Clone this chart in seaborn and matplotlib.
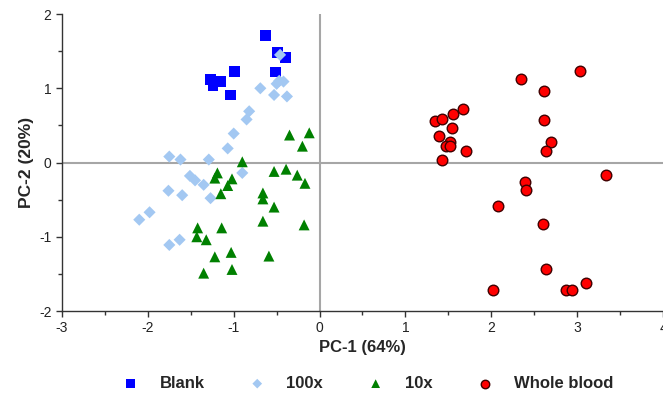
import numpy as np
import pandas as pd
import matplotlib
matplotlib.use("Agg")
import matplotlib.pyplot as plt
from matplotlib.ticker import MultipleLocator
import seaborn as sns

# PCA scores per sample group
blank_x = [-0.63, -0.49, -0.40, -0.51, -0.99, -1.27, -1.15, -1.24, -1.04]
blank_y = [1.71, 1.48, 1.41, 1.22, 1.23, 1.12, 1.09, 1.03, 0.91]

x100_x = [-0.46, -0.50, -0.47, -0.42, -0.69, -0.53, -0.38, -0.82, -0.85, -1.00,
          -1.07, -1.75, -1.62, -1.29, -0.90, -1.51, -1.45, -1.35, -1.76, -1.60,
          -1.27, -1.98, -2.10, -1.63, -1.75]
x100_y = [1.45, 1.06, 1.10, 1.09, 1.00, 0.91, 0.89, 0.69, 0.58, 0.39,
          0.19, 0.08, 0.04, 0.04, -0.14, -0.18, -0.24, -0.30, -0.38, -0.44,
          -0.48, -0.67, -0.77, -1.04, -1.11]

x10_x = [-0.35, -0.12, -0.20, -0.90, -1.19, -1.22, -1.02, -1.07, -1.15, -0.53,
         -0.39, -0.26, -0.17, -0.66, -0.66, -0.53, -0.66, -0.18, -1.42, -1.14,
         -1.43, -1.32, -1.22, -1.03, -0.59, -1.35, -1.02]
x10_y = [0.37, 0.40, 0.22, 0.01, -0.14, -0.21, -0.22, -0.31, -0.42, -0.12,
         -0.09, -0.17, -0.28, -0.41, -0.49, -0.60, -0.79, -0.84, -0.88, -0.88,
         -1.00, -1.04, -1.27, -1.21, -1.26, -1.49, -1.44]

blood_x = [1.34, 1.43, 1.55, 1.67, 1.54, 1.39, 1.52, 1.47, 1.52, 1.71,
           1.43, 2.35, 3.03, 2.61, 2.61, 2.70, 2.64, 3.34, 2.39, 2.40,
           2.08, 2.60, 2.64, 3.10, 2.87, 2.94, 2.02]
blood_y = [0.56, 0.58, 0.65, 0.72, 0.46, 0.36, 0.28, 0.22, 0.22, 0.15,
           0.04, 1.13, 1.23, 0.96, 0.57, 0.27, 0.15, -0.17, -0.26, -0.37,
           -0.58, -0.83, -1.44, -1.62, -1.72, -1.72, -1.71]

groups = ["Blank", "100x", "10x", "Whole blood"]
colors = {"Blank": "#0000ff", "100x": "#a3c8f2", "10x": "#008000", "Whole blood": "#ff0000"}
markers = {"Blank": "s", "100x": "D", "10x": "^", "Whole blood": "o"}
sizes = {"Blank": 60, "100x": 38, "10x": 62, "Whole blood": 58}

df = pd.concat([
    pd.DataFrame({"PC1": blank_x, "PC2": blank_y, "group": "Blank"}),
    pd.DataFrame({"PC1": x100_x, "PC2": x100_y, "group": "100x"}),
    pd.DataFrame({"PC1": x10_x, "PC2": x10_y, "group": "10x"}),
    pd.DataFrame({"PC1": blood_x, "PC2": blood_y, "group": "Whole blood"}),
], ignore_index=True)

sns.set_style("white")
plt.rcParams["font.family"] = ["Liberation Sans", "DejaVu Sans"]
plt.rcParams["axes.unicode_minus"] = False

fig = plt.figure(figsize=(6.63, 4.05), dpi=100)
ax = fig.add_axes([0.0935, 0.232, 0.9065, 0.7334])

# zero reference lines
ax.axhline(0, color="#a6a6a6", lw=1.5, zorder=1)
ax.axvline(0, color="#a6a6a6", lw=1.5, zorder=1)

for g in groups:
    sub = df[df["group"] == g]
    sns.scatterplot(data=sub, x="PC1", y="PC2", ax=ax, color=colors[g],
                    marker=markers[g], s=sizes[g], label=g,
                    edgecolor="#400000" if g == "Whole blood" else "none",
                    linewidth=1.0 if g == "Whole blood" else 0, zorder=3)

ax.set_xlim(-3, 4)
ax.set_ylim(-2, 2)
ax.xaxis.set_major_locator(MultipleLocator(1))
ax.xaxis.set_minor_locator(MultipleLocator(0.5))
ax.yaxis.set_major_locator(MultipleLocator(1))
ax.yaxis.set_minor_locator(MultipleLocator(0.5))
ax.tick_params(which="major", direction="out", length=4, width=1, colors="#333333",
               labelsize=10, labelcolor="#222222", left=True, bottom=True)
ax.tick_params(which="minor", direction="out", length=3, width=1, colors="#333333",
               left=True, bottom=True)

for side in ["top", "right"]:
    ax.spines[side].set_visible(False)
for side in ["left", "bottom"]:
    ax.spines[side].set_color("#333333")
    ax.spines[side].set_linewidth(1.0)

ax.set_xlabel("PC-1 (64%)", fontsize=12, fontweight="bold", labelpad=3)
ax.set_ylabel("PC-2 (20%)", fontsize=12.5, fontweight="bold", labelpad=4)

handles, labels = ax.get_legend_handles_labels()
ax.legend(handles, labels, loc="center", bbox_to_anchor=(0.502, -0.244),
          ncol=4, frameon=False, prop={"weight": "bold", "size": 12},
          columnspacing=2.15, handletextpad=0.75, markerscale=0.8)

fig.savefig("out.png", dpi=100)
